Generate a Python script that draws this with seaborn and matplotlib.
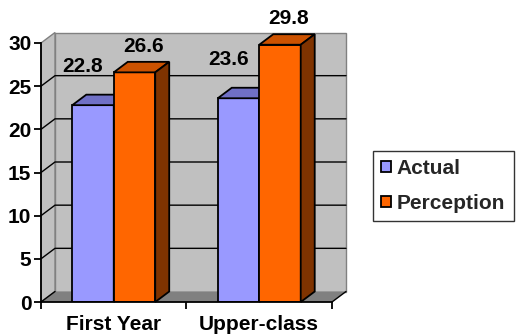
import matplotlib
matplotlib.use("Agg")
import matplotlib.pyplot as plt
import seaborn as sns
import pandas as pd
import numpy as np
from matplotlib.patches import Polygon, Patch
from matplotlib.lines import Line2D
from matplotlib.transforms import IdentityTransform
from matplotlib.colors import to_rgba

groups = ["First Year", "Upper-class"]
series = ["Actual", "Perception"]
actual = [22.8, 23.6]
perception = [26.6, 29.8]
y_ticks = [0, 5, 10, 15, 20, 25, 30]

df = pd.DataFrame({
    "group": groups * 2,
    "series": [series[0]] * len(groups) + [series[1]] * len(groups),
    "value": actual + perception,
})

front_col = {"Actual": "#9999ff", "Perception": "#ff6600"}
top_col = {"Actual": "#7070c6", "Perception": "#cc5200"}
side_col = {"Actual": "#4c4c99", "Perception": "#7f3300"}
label_off = {"Actual": (-10, 39), "Perception": (9, 26)}
layer = {"Actual": 3, "Perception": 4}
FS = 15

sns.set_theme(style="white")
plt.rcParams["font.family"] = ["Liberation Sans", "DejaVu Sans"]
plt.rcParams["font.weight"] = "bold"

W, H, DPI = 518, 335, 100
fig = plt.figure(figsize=(W / DPI, H / DPI), dpi=DPI)
fig.patch.set_facecolor("white")

# front plane of the plot box, in pixels
x_left, x_right, y_zero, y_top = 41, 332, 302, 43
ax = fig.add_axes([x_left / W, (H - y_zero) / H,
                   (x_right - x_left) / W, (y_zero - y_top) / H])
ax.patch.set_visible(False)

sns.barplot(data=df, x="group", y="value", hue="series", palette=front_col,
            width=0.57, saturation=1, edgecolor="black", linewidth=1.3,
            legend=False, ax=ax)
bars = list(ax.patches)
ax.set_xlim(-0.5, len(groups) - 0.5)
ax.set_ylim(y_ticks[0], y_ticks[-1])

DX, DY = 14, 10.5  # depth of the box, pixels
xmin, xmax = ax.get_xlim()
ymin, ymax = ax.get_ylim()
ident = IdentityTransform()


def px(x, y, back=False):
    p = ax.transData.transform((x, y))
    return (p[0] + DX, p[1] + DY) if back else (p[0], p[1])


def poly(pts, fc, ec="none", lw=0, z=0):
    ax.add_patch(Polygon(pts, closed=True, fc=fc, ec=ec, lw=lw,
                         transform=ident, clip_on=False, zorder=z))


def seg(pts, color="black", lw=1, z=1):
    xs, ys = zip(*pts)
    ax.add_line(Line2D(xs, ys, color=color, lw=lw, transform=ident,
                       clip_on=False, zorder=z))


# back wall
poly([px(xmin, ymin, True), px(xmax, ymin, True),
      px(xmax, ymax, True), px(xmin, ymax, True)],
     "#c0c0c0", "#808080", 1, z=0.1)
# left side wall
poly([px(xmin, ymin), px(xmin, ymin, True),
      px(xmin, ymax, True), px(xmin, ymax)],
     "#c0c0c0", "#808080", 1, z=0.2)
# floor
poly([px(xmin, ymin), px(xmax, ymin),
      px(xmax, ymin, True), px(xmin, ymin, True)],
     "#808080", z=0.3)
seg([px(xmax, ymin), px(xmax, ymin, True)], z=0.5)
seg([px(xmin, ymin), px(xmin, ymin, True)], z=0.5)

# gridlines on the side wall and back wall
for t in y_ticks[1:-1]:
    seg([px(xmin, t), px(xmin, t, True), px(xmax, t, True)], lw=1, z=0.6)

# depth faces of every bar
for p in bars:
    fc = p.get_facecolor()
    s = next(k for k, v in front_col.items()
             if np.allclose(to_rgba(v), fc, atol=0.02))
    x0, w, h = p.get_x(), p.get_width(), p.get_height()
    z = layer[s]
    p.set_zorder(z)
    poly([px(x0, h), px(x0 + w, h), px(x0 + w, h, True), px(x0, h, True)],
         top_col[s], "black", 1.3, z=z)
    poly([px(x0 + w, h), px(x0 + w, 0), px(x0 + w, 0, True),
          px(x0 + w, h, True)],
         side_col[s], "black", 1.3, z=z)
    dx, dy = label_off[s]
    ax.annotate(f"{h:.1f}", xy=(x0 + w / 2, h), xytext=(dx, dy),
                textcoords="offset pixels", ha="center", va="center",
                fontsize=FS, fontweight="bold", color="black",
                annotation_clip=False, zorder=6)

for side in ("top", "right"):
    ax.spines[side].set_visible(False)
for side in ("left", "bottom"):
    ax.spines[side].set_color("black")
    ax.spines[side].set_linewidth(1.3)
    ax.spines[side].set_zorder(5)

ax.set_yticks(y_ticks)
ax.set_xticks(range(len(groups)), groups)
ax.set_xticks(np.arange(-0.5, len(groups)), minor=True)
ax.tick_params(axis="y", which="major", direction="out", length=5, width=1.3,
               color="black", pad=2, labelsize=FS, labelcolor="black", left=True)
ax.tick_params(axis="x", which="major", length=0, pad=9, labelsize=FS,
               labelcolor="black")
ax.tick_params(axis="x", which="minor", direction="out", length=5, width=1.3,
               color="black", bottom=True)
ax.set_xlabel("")
ax.set_ylabel("")

handles = [Patch(fc=front_col[s], ec="black", lw=1.3) for s in series]
leg = fig.legend(handles, series, loc="center left",
                 bbox_to_anchor=(373 / W, 1 - 186 / H),
                 frameon=True, fancybox=False, shadow=False,
                 prop={"size": FS, "weight": "bold"},
                 handlelength=0.45, handleheight=0.45, handletextpad=0.3,
                 labelspacing=0.75, borderpad=0.4, borderaxespad=0)
leg.get_frame().set_edgecolor("black")
leg.get_frame().set_linewidth(1)
leg.get_frame().set_facecolor("white")

fig.savefig("out.png", dpi=DPI, facecolor="white")
